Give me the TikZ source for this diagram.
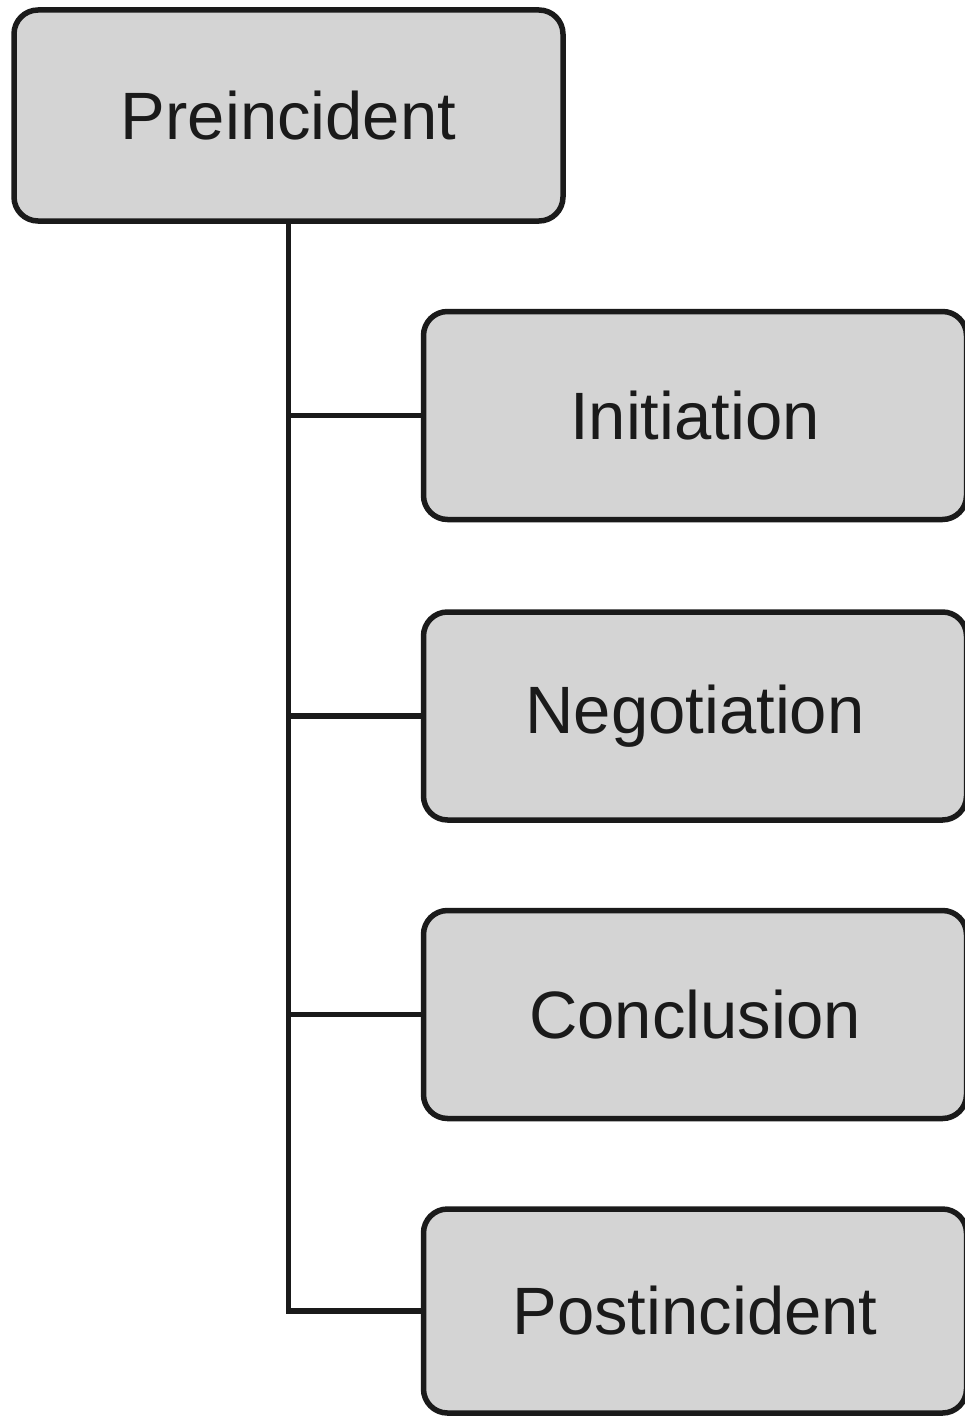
\documentclass[tikz,border=0pt]{standalone}
\usepackage{fontspec}
\setmainfont{Liberation Sans}
\definecolor{boxfill}{HTML}{D4D4D4}
\definecolor{ink}{HTML}{1A1A1A}
\begin{document}
\begin{tikzpicture}[x=1pt,y=-1pt,
  stagebox/.style={draw=ink, fill=boxfill, line width=5.5pt, rounded corners=24pt,
    inner sep=0pt, text=ink, font=\fontsize{67}{80}\selectfont},
  link/.style={draw=ink, line width=5.5pt}]
\useasboundingbox (0,0) rectangle (965,1418);
\node[stagebox, minimum width=549pt, minimum height=211pt] (pre) at (288.5,115.5) {Preincident};
\node[stagebox, minimum width=543pt, minimum height=208pt] (init) at (695,415.5) {Initiation};
\node[stagebox, minimum width=543pt, minimum height=208pt] (nego) at (695,716) {Negotiation};
\node[stagebox, minimum width=543pt, minimum height=208pt] (conc) at (695,1014.5) {Conclusion};
\node[stagebox, minimum width=543pt, minimum height=204pt] (post) at (695,1311) {Postincident};
\draw[link] (pre.south) |- (post.west);
\draw[link] (pre.south |- init.west) -- (init.west);
\draw[link] (pre.south |- nego.west) -- (nego.west);
\draw[link] (pre.south |- conc.west) -- (conc.west);
\end{tikzpicture}
\end{document}
